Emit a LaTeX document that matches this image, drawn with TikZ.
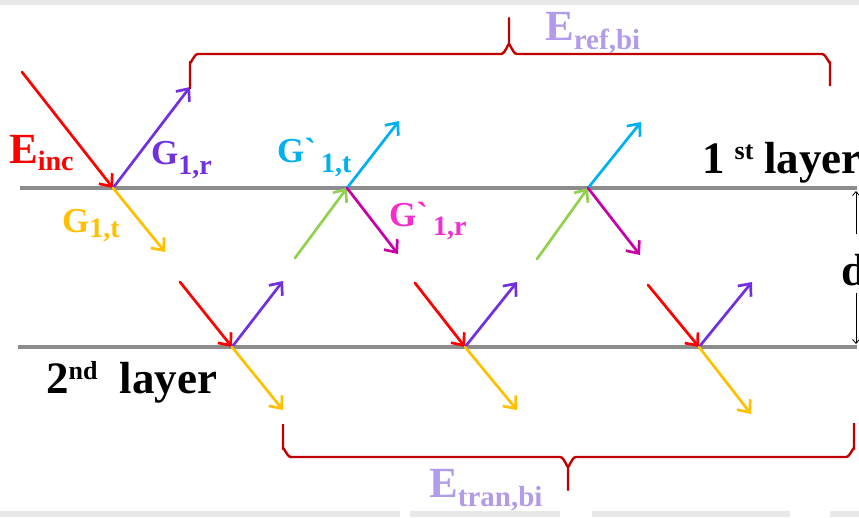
\documentclass[tikz,border=0pt]{standalone}
\usepackage{fontspec}
\setmainfont{Liberation Serif}[Ligatures=TeXOff, BoldFont={Liberation Serif Bold}]
\usetikzlibrary{arrows.meta}
\definecolor{cred}{RGB}{255,0,0}
\definecolor{cpurple}{RGB}{112,48,224}
\definecolor{corange}{RGB}{255,192,0}
\definecolor{cgreen}{RGB}{146,208,80}
\definecolor{ccyan}{RGB}{0,176,240}
\definecolor{cmag}{RGB}{200,0,165}
\definecolor{cpink}{RGB}{245,45,205}
\definecolor{cbrace}{RGB}{192,0,0}
\definecolor{clav}{RGB}{178,155,235}
\definecolor{cgray}{RGB}{140,140,140}
\definecolor{cfaint}{RGB}{232,232,232}
\newcommand{\mysub}[3]{\raisebox{-#1pt}{\fontsize{#2}{#2}\selectfont #3}}
\newcommand{\mysup}[3]{\raisebox{#1pt}{\fontsize{#2}{#2}\selectfont #3}}
\begin{document}
\begin{tikzpicture}[x=1pt,y=-1pt,
  ray/.style={line width=2.7pt, line cap=round, -{Straight Barb[length=10pt,width=17pt]}},
  layerline/.style={line width=4pt, draw=cgray},
  bracepath/.style={line width=2.4pt, draw=cbrace, line join=round},
  lab/.style={inner sep=0pt, anchor=base west, font=\rmfamily\bfseries\fontsize{45}{45}\selectfont},
  elab/.style={inner sep=0pt, anchor=base west, font=\rmfamily\bfseries\fontsize{43}{43}\selectfont},
  glab/.style={inner sep=0pt, anchor=base west, font=\rmfamily\bfseries\fontsize{35}{35}\selectfont},
  dim/.style={line width=0.8pt, -{Straight Barb[length=4pt,width=7pt]}}]
\useasboundingbox (0,0) rectangle (859,517);
% faint background strips
\fill[cfaint] (0,0) rectangle (859,5);
\fill[cfaint] (0,511) rectangle (400,517);
\fill[cfaint] (410,511) rectangle (560,517);
\fill[cfaint] (592,511) rectangle (790,517);
\fill[cfaint] (830,511) rectangle (859,517);
% layers
\coordinate (l1a) at (20,188);  \coordinate (l1b) at (857,188);
\coordinate (l2a) at (18,347);  \coordinate (l2b) at (857,347);
\draw[layerline] (l1a) -- (l1b);
\draw[layerline] (l2a) -- (l2b);
% vertices
\coordinate (v1) at (113,188);
\coordinate (v2) at (347,188);
\coordinate (v3) at (588,188);
\coordinate (w1) at (232,347);
\coordinate (w2) at (465,347);
\coordinate (w3) at (699,347);
% first layer rays
\coordinate (inc) at (22,72);
\coordinate (g1r) at (190,87);
\coordinate (g1t) at (165,252);
\draw[ray, cred] (inc) -- (v1);
\draw[ray, cpurple] (v1) -- (g1r);
\draw[ray, corange] (v1) -- (g1t);
\coordinate (gr2) at (295,258);
\coordinate (cy2) at (399,121);
\coordinate (mg2) at (398,254);
\draw[ray, cgreen] (gr2) -- (v2);
\draw[ray, ccyan] (v2) -- (cy2);
\draw[ray, cmag] (v2) -- (mg2);
\coordinate (gr3) at (537,259);
\coordinate (cy3) at (641,122);
\coordinate (mg3) at (640,255);
\draw[ray, cgreen] (gr3) -- (v3);
\draw[ray, ccyan] (v3) -- (cy3);
\draw[ray, cmag] (v3) -- (mg3);
% second layer rays
\coordinate (r1) at (180,282);  \coordinate (p1) at (283,281);  \coordinate (o1) at (283,410);
\coordinate (r2) at (415,283);  \coordinate (p2) at (517,282);  \coordinate (o2) at (517,410);
\coordinate (r3) at (648,285);  \coordinate (p3) at (752,282);  \coordinate (o3) at (751,414);
\draw[ray, cred] (r1) -- (w1);
\draw[ray, cpurple] (w1) -- (p1);
\draw[ray, corange] (w1) -- (o1);
\draw[ray, cred] (r2) -- (w2);
\draw[ray, cpurple] (w2) -- (p2);
\draw[ray, corange] (w2) -- (o2);
\draw[ray, cred] (r3) -- (w3);
\draw[ray, cpurple] (w3) -- (p3);
\draw[ray, corange] (w3) -- (o3);
% d dimension
\coordinate (da) at (856,234); \coordinate (db) at (856,191);
\coordinate (dc) at (856,293); \coordinate (dd) at (856,344);
\draw[dim] (da) -- (db);
\draw[dim] (dc) -- (dd);
\node[lab] (dlab) at (841,285) {d};
% braces
\draw[bracepath] (190,89) -- (190,62) to[out=-90,in=180] (198,54) -- (501,54)
   to[out=0,in=90] (509,45) -- (509,18) -- (509,45) to[out=90,in=180] (517,54)
   -- (822,54) to[out=0,in=-90] (830,62) -- (830,86);
\draw[bracepath] (283,424) -- (283,449) to[out=90,in=180] (291,457) -- (560,457)
   to[out=0,in=-90] (568,466) -- (568,490) -- (568,466) to[out=-90,in=180] (576,457)
   -- (846,457) to[out=0,in=90] (854,449) -- (854,423);
% labels
\node[elab, text=cred] (einc) at (9,163) {E\mysub{7}{28}{inc}};
\node[glab, text=cpurple] (lg1r) at (151,164) {G\mysub{10}{28}{1,r}};
\node[glab, text=corange] (lg1t) at (62,232) {G\mysub{5}{28}{1,t}};
\node[glab, text=ccyan] (lgp1t) at (277,162) {G`\hspace{5pt}\mysub{10}{28}{1,t}};
\node[glab, text=cpink] (lgp1r) at (389,226) {G`\hspace{5pt}\mysub{9}{28}{1,r}};
\node[elab, text=clav] (eref) at (545,40) {E\mysub{9}{29}{ref,bi}};
\node[elab, text=clav] (etran) at (429,497) {E\mysub{9}{29}{tran,bi}};
\node[lab] (first) at (702,173) {1\hspace{10pt}\mysup{14}{26}{st}\hspace{11pt}layer};
\node[lab] (second) at (46,393) {2\mysup{14}{26}{nd}\hspace{22pt}layer};
\end{tikzpicture}
\end{document}
